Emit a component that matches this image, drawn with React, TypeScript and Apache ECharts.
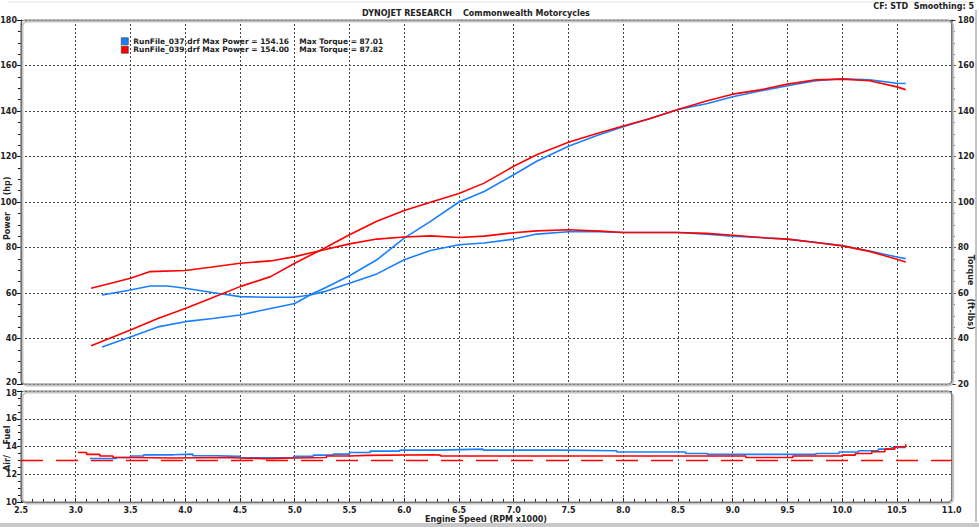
import React, { useEffect, useRef } from "react";
import * as echarts from "echarts";

// ---- Data ----
const runNames = ["RunFile_037.drf", "RunFile_039.drf"];
const maxPower = ["154.16", "154.00"];
const maxTorque = ["87.01", "87.82"];
const runColors = ["#1a7fff", "#ff0000"];

// [RPM x1000, hp]
const bluePower: [number, number][] = [
  [3.24, 36.3], [3.5, 40.7], [3.75, 45.1], [4.0, 47.4], [4.25, 48.8], [4.5, 50.3],
  [4.78, 53.2], [5.0, 55.4], [5.17, 59.9], [5.27, 62.1], [5.5, 67.6], [5.75, 74.6],
  [6.0, 84.1], [6.24, 91.5], [6.5, 100.0], [6.73, 104.6], [7.0, 112.0], [7.21, 117.9],
  [7.5, 124.5], [7.76, 129.2], [8.0, 133.1], [8.24, 136.6], [8.5, 140.7], [8.76, 143.2],
  [9.0, 146.3], [9.25, 148.8], [9.5, 151.1], [9.76, 153.3], [10.0, 154.2], [10.25, 153.7],
  [10.5, 152.2], [10.58, 152.1],
];
const redPower: [number, number][] = [
  [3.14, 36.8], [3.5, 43.7], [3.75, 48.8], [4.0, 53.2], [4.23, 57.6], [4.5, 62.8],
  [4.78, 67.2], [5.0, 73.1], [5.27, 79.7], [5.5, 85.6], [5.75, 91.5], [6.0, 96.3],
  [6.24, 99.9], [6.5, 103.7], [6.73, 108.3], [7.0, 115.7], [7.21, 120.8], [7.5, 126.3],
  [7.76, 130.1], [8.0, 133.4], [8.24, 136.6], [8.5, 140.7], [8.76, 144.4], [9.0, 147.4],
  [9.25, 149.3], [9.5, 151.8], [9.76, 153.7], [10.0, 154.0], [10.25, 153.3], [10.5, 150.6],
  [10.58, 149.4],
];
// [RPM x1000, ft-lbs]
const blueTorque: [number, number][] = [
  [3.24, 59.1], [3.5, 61.3], [3.68, 63.1], [3.84, 63.1], [4.0, 62.1], [4.26, 60.1],
  [4.5, 58.4], [4.78, 58.1], [5.0, 58.1], [5.14, 59.1], [5.27, 60.6], [5.5, 64.3],
  [5.75, 68.4], [6.0, 74.6], [6.24, 78.7], [6.5, 81.2], [6.73, 82.0], [7.0, 83.7],
  [7.21, 85.9], [7.5, 86.9], [7.7, 87.0], [8.0, 86.6], [8.5, 86.6], [8.76, 85.9],
  [9.0, 85.0], [9.5, 83.7], [10.0, 80.9], [10.25, 78.5], [10.5, 75.8], [10.58, 75.1],
];
const redTorque: [number, number][] = [
  [3.14, 62.1], [3.5, 66.5], [3.68, 69.4], [4.0, 69.9], [4.23, 71.3], [4.5, 73.1],
  [4.78, 74.1], [5.0, 76.0], [5.27, 79.0], [5.5, 81.6], [5.75, 83.7], [6.0, 84.6],
  [6.24, 85.1], [6.5, 84.4], [6.73, 85.0], [7.0, 86.5], [7.21, 87.3], [7.5, 87.8],
  [7.79, 87.2], [8.0, 86.6], [8.5, 86.6], [8.76, 86.2], [9.0, 85.4], [9.31, 84.2],
  [9.5, 83.7], [9.76, 82.2], [10.0, 80.7], [10.25, 78.3], [10.5, 74.8], [10.58, 73.6],
];
// [RPM x1000, AFR]
const blueAfr: [number, number][] = [
  [3.13, 13.14], [3.37, 13.21], [3.5, 13.31], [3.62, 13.4], [3.89, 13.45], [4.07, 13.33],
  [4.29, 13.29], [4.5, 13.19], [4.65, 13.21], [4.99, 13.29], [5.17, 13.38], [5.35, 13.45],
  [5.5, 13.57], [5.69, 13.67], [5.96, 13.74], [6.33, 13.76], [6.42, 13.81], [6.72, 13.74],
  [7.42, 13.69], [7.94, 13.6], [8.57, 13.5], [8.77, 13.43], [9.76, 13.5], [9.97, 13.6],
  [10.15, 13.69], [10.33, 13.81], [10.45, 13.93], [10.58, 13.98],
];
const redAfr: [number, number][] = [
  [3.02, 13.57], [3.1, 13.43], [3.22, 13.31], [3.34, 13.21], [3.5, 13.17], [3.89, 13.21],
  [4.38, 13.17], [4.5, 13.12], [4.74, 13.17], [4.99, 13.21], [5.29, 13.31], [5.5, 13.36],
  [5.66, 13.4], [6.27, 13.38], [6.33, 13.31], [9.09, 13.31], [9.12, 13.21], [9.51, 13.21],
  [9.55, 13.31], [9.91, 13.31], [10.0, 13.38], [10.12, 13.5], [10.27, 13.62], [10.39, 13.81],
  [10.48, 13.98], [10.58, 14.17],
];
const targetAfr: [number, number][] = [[2.5, 13.0], [11.0, 13.0]];

const FONT = "DejaVu Sans";

export default function App() {
  const ref = useRef<HTMLDivElement>(null);
  useEffect(() => {
    if (!ref.current) return;
    const chart = echarts.init(ref.current, undefined, { renderer: "svg" });
    const gridL = 21, gridW = 930.7;
    const g0Top = 20, g0H = 364, g1Top = 391, g1H = 111;
    const labelStyle = { fontFamily: FONT, fontSize: 8, fontWeight: "bold" as const, color: "#222" };
    const richLabel = {
      up: { fontFamily: FONT, fontSize: 8, fontWeight: "bold" as const, color: "#222", padding: [0, 0, 4, 0] },
      dn: { fontFamily: FONT, fontSize: 8, fontWeight: "bold" as const, color: "#222", padding: [4, 0, 0, 0] },
    };
    const split = { show: true, lineStyle: { type: [2, 2] as any, color: "#444", width: 1 } };
    const lineSeries = (name: string, data: any, color: string, xi: number, yi: number, extra: any = {}) => ({
      type: "line", name, data, xAxisIndex: xi, yAxisIndex: yi, showSymbol: false, symbol: "none",
      lineStyle: { color, width: 1.6 }, itemStyle: { color }, z: 3, ...extra,
    });
    const txt = (text: string, x: number, y: number, rotation = 0, align = "center") => ({
      type: "text", x, y, rotation, silent: true,
      style: { text, font: `bold 8px "${FONT}"`, fill: "#222", align, verticalAlign: "middle" },
    });
    const legFont = { fontFamily: FONT, fontSize: 7.5, fontWeight: "bold" as const, color: "#222", lineHeight: 8.5 };
    chart.setOption({
      animation: false,
      backgroundColor: "#ffffff",
      textStyle: { fontFamily: FONT },
      grid: [
        { left: gridL, top: g0Top, width: gridW, height: g0H, outerBoundsMode: "none" },
        { left: gridL, top: g1Top, width: gridW, height: g1H, outerBoundsMode: "none" },
      ],
      legend: {
        data: runNames,
        orient: "vertical",
        left: 116,
        top: 32,
        itemWidth: 7,
        itemHeight: 7,
        itemGap: 0,
        icon: "rect",
        selectedMode: false,
        itemStyle: { borderColor: "#333", borderWidth: 0.6 },
        formatter: (name: string) => {
          const i = runNames.indexOf(name);
          return `{a|${name} Max Power = ${maxPower[i]}}{b|Max Torque = ${maxTorque[i]}}`;
        },
        textStyle: {
          ...legFont,
          rich: {
            a: { ...legFont, width: 166 },
            b: { ...legFont },
          },
        },
      },
      xAxis: [
        {
          type: "value", gridIndex: 0, min: 2.5, max: 11, interval: 0.5,
          axisLine: { show: false }, axisTick: { show: false }, axisLabel: { show: false },
          splitLine: split,
        },
        {
          type: "value", gridIndex: 1, min: 2.5, max: 11, interval: 0.5,
          axisLine: { show: true, lineStyle: { color: "#222", width: 1 } },
          axisTick: { show: true, inside: true, length: 4, lineStyle: { color: "#222" } },
          minorTick: { show: true, splitNumber: 5, length: 3, lineStyle: { color: "#222" } },
          axisLabel: { ...labelStyle, margin: 4, formatter: (v: number) => v.toFixed(1) },
          splitLine: split,
        },
      ],
      yAxis: [
        {
          type: "value", gridIndex: 0, min: 20, max: 180, interval: 20, position: "left",
          axisLine: { show: true, lineStyle: { color: "#111", width: 1.2 } },
          axisTick: { show: true, length: 4, lineStyle: { color: "#111" } },
          minorTick: { show: true, splitNumber: 4, length: 3, lineStyle: { color: "#111" } },
          axisLabel: { ...labelStyle, margin: 4, rich: richLabel, formatter: (v: number) => (v === 20 ? `{up|${v}}` : `${v}`) },
          splitLine: split,
        },
        {
          type: "value", gridIndex: 0, min: 20, max: 180, interval: 20, position: "right",
          axisLine: { show: true, lineStyle: { color: "#555", width: 1.5 } },
          axisTick: { show: true, length: 4, lineStyle: { color: "#333" } },
          minorTick: { show: true, splitNumber: 4, length: 3, lineStyle: { color: "#333" } },
          axisLabel: { ...labelStyle, margin: 6 },
          splitLine: { show: false },
        },
        {
          type: "value", gridIndex: 1, min: 10, max: 18, interval: 2, position: "left",
          axisLine: { show: true, lineStyle: { color: "#111", width: 1.2 } },
          axisTick: { show: true, length: 4, lineStyle: { color: "#111" } },
          minorTick: { show: true, splitNumber: 4, length: 3, lineStyle: { color: "#111" } },
          axisLabel: { ...labelStyle, margin: 4, rich: richLabel, formatter: (v: number) => (v === 18 ? `{dn|${v}}` : `${v}`) },
          splitLine: split,
        },
      ],
      series: [
        lineSeries(runNames[0], bluePower, runColors[0], 0, 0),
        lineSeries(runNames[0], blueTorque, runColors[0], 0, 1),
        lineSeries(runNames[1], redPower, runColors[1], 0, 0, { z: 4 }),
        lineSeries(runNames[1], redTorque, runColors[1], 0, 1, { z: 4 }),
        lineSeries(runNames[0], blueAfr, runColors[0], 1, 2, { step: "end" }),
        lineSeries(runNames[1], redAfr, runColors[1], 1, 2, { step: "end", z: 4 }),
        {
          type: "line", name: "Target AFR", data: targetAfr, xAxisIndex: 1, yAxisIndex: 2,
          showSymbol: false, symbol: "none", z: 2,
          lineStyle: { color: "#ff0000", width: 1.5, type: [22, 13] },
        },
      ],
      graphic: [
        // panel frames
        { type: "rect", z: 1, silent: true, shape: { x: gridL + 1.5, y: g0Top + 1.5, width: gridW, height: g0H, r: 5 }, style: { fill: "none", stroke: "#c4c4c4", lineWidth: 2 } },
        { type: "rect", z: 1, silent: true, shape: { x: gridL, y: g0Top, width: gridW, height: g0H, r: 4 }, style: { fill: "none", stroke: "#7a7a7a", lineWidth: 1.2 } },
        { type: "rect", z: 1, silent: true, shape: { x: gridL + 1.5, y: g1Top + 1.5, width: gridW, height: g1H, r: 5 }, style: { fill: "none", stroke: "#c4c4c4", lineWidth: 2 } },
        { type: "rect", z: 1, silent: true, shape: { x: gridL, y: g1Top, width: gridW, height: g1H, r: 4 }, style: { fill: "none", stroke: "#7a7a7a", lineWidth: 1.2 } },
        // page edges
        { type: "line", silent: true, shape: { x1: 8, y1: 2, x2: 976, y2: 2 }, style: { stroke: "#e2e2e2", lineWidth: 1 } },
        { type: "line", silent: true, shape: { x1: 976, y1: 10, x2: 976, y2: 522 }, style: { stroke: "#b0b0b0", lineWidth: 1.5 } },
        { type: "rect", silent: true, shape: { x: 0, y: 523, width: 979, height: 4 }, style: { fill: "#c8c8c8" } },
        // titles
        txt("DYNOJET RESEARCH", 407, 13),
        txt("Commonwealth Motorcycles", 463, 13, 0, "left"),
        txt("CF: STD  Smoothing: 5", 974, 6, 0, "right"),
        // axis names
        txt("Power", 7, 226, Math.PI / 2),
        txt("(hp)", 7, 186, Math.PI / 2),
        txt("Torque", 970, 270, -Math.PI / 2),
        txt("(ft-lbs)", 970, 314, -Math.PI / 2),
        txt("Fuel", 7, 435, Math.PI / 2),
        txt("Air/", 7, 463, Math.PI / 2),
        txt("Engine Speed (RPM x1000)", 486, 519),
      ],
    });
    return () => chart.dispose();
  }, []);
  return (
    <div
      ref={ref}
      style={{ position: "fixed", left: 0, top: 0, width: 979, height: 527, background: "#fff" }}
    />
  );
}
